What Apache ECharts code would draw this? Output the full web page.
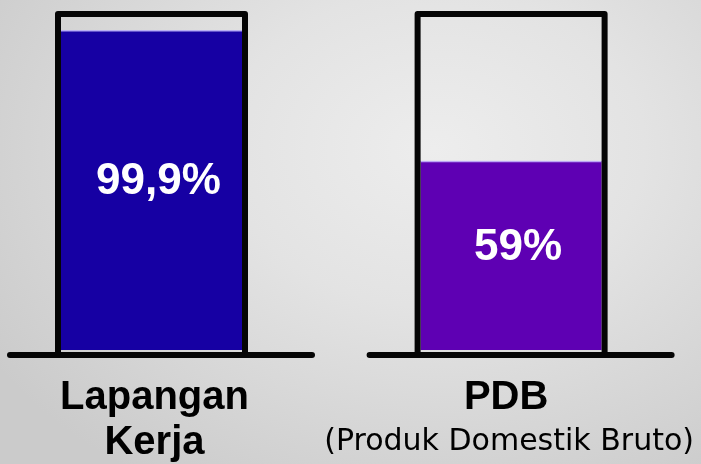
<!DOCTYPE html>
<html>
<head>
<meta charset="utf-8">
<script src="https://cdn.jsdelivr.net/npm/echarts@6/dist/echarts.min.js"></script>
<style>
  html, body { margin: 0; padding: 0; }
  #chart { width: 701px; height: 464px;
    background: radial-gradient(ellipse 75% 85% at 62% 32%, #ededed 0%, #e3e3e3 40%, #cbcbcb 100%); }
</style>
</head>
<body>
<div id="chart"></div>
<script>
// ---- data ----
var categories = ['Lapangan Kerja', 'PDB'];
var subtitles = ['', '(Produk Domestik Bruto)'];
var values = [99.9, 59];
var valueLabels = ['99,9%', '59%'];
var fillColors = ['#1600a3', '#5e00b3'];

var chart = echarts.init(document.getElementById('chart'), null, { renderer: 'canvas' });

var seriesData = values.map(function (v, i) { return [i, v]; });

function renderItem(params, api) {
  var i = api.value(0);
  var v = api.value(1);
  var base = api.coord([i, 0]);
  var top = api.coord([i, v]);
  var maxPt = api.coord([i, 104]);
  var cx = base[0];
  var by = base[1];
  var half = 93.5;
  var children = [];
  // liquid fill
  children.push({
    type: 'rect',
    shape: { x: cx - 90.5, y: top[1], width: 181, height: by - top[1] },
    style: { fill: fillColors[i] }
  });
  // thin light meniscus line
  children.push({
    type: 'line',
    shape: { x1: cx - 90.5, y1: top[1] + 0.5, x2: cx + 90.5, y2: top[1] + 0.5 },
    style: { stroke: 'rgba(205,195,255,0.85)', lineWidth: 1.5 }
  });
  // container outline
  children.push({
    type: 'polyline',
    shape: { points: [[cx - half, by + 5], [cx - half, maxPt[1] - 3], [cx + half, maxPt[1] - 3], [cx + half, by + 5]] },
    style: { stroke: '#050505', lineWidth: 6, fill: null, lineJoin: 'round' }
  });
  // ground line
  children.push({
    type: 'line',
    shape: { x1: cx - half - 48, y1: by + 5, x2: cx + half + 67, y2: by + 5 },
    style: { stroke: '#050505', lineWidth: 6, lineCap: 'round' }
  });
  // value label
  children.push({
    type: 'text',
    style: {
      text: valueLabels[i],
      x: cx + 7,
      y: (top[1] + by) / 2 - 8,
      align: 'center',
      verticalAlign: 'middle',
      fill: '#ffffff',
      font: 'bold 44px "Liberation Sans", Arial, sans-serif'
    }
  });
  return { type: 'group', children: children };
}

chart.setOption({
  backgroundColor: 'transparent',
  animation: false,
  grid: { left: 151.5, right: 184.5, top: 17, bottom: 114, containLabel: false },
  xAxis: {
    type: 'category',
    data: categories,
    boundaryGap: false,
    axisLine: { show: false },
    axisTick: { show: false },
    splitLine: { show: false },
    axisLabel: {
      interval: 0,
      margin: 25,
      formatter: function (val, idx) {
        if (idx === 0) {
          var parts = val.split(' ');
          return '{t|' + parts[0] + '}\n{t|' + parts[1] + '}';
        }
        return '{t2|' + val + '}\n{s|' + subtitles[idx] + '}';
      },
      rich: {
        t: { fontFamily: '"Liberation Sans", Arial, sans-serif', fontWeight: 'bold', fontSize: 40, lineHeight: 45, color: '#000', padding: [0, 0, 0, 6] },
        t2: { fontFamily: '"Liberation Sans", Arial, sans-serif', fontWeight: 'bold', fontSize: 40, lineHeight: 45, color: '#000', padding: [0, 10, 0, 0] },
        s: { fontFamily: '"DejaVu Sans", sans-serif', fontSize: 30, lineHeight: 45, color: '#000', padding: [0, 4, 0, 0] }
      }
    }
  },
  yAxis: {
    type: 'value',
    min: 0,
    max: 104,
    show: false,
    splitLine: { show: false }
  },
  series: [{
    type: 'custom',
    renderItem: renderItem,
    data: seriesData,
    clip: false
  }]
});
</script>
</body>
</html>
